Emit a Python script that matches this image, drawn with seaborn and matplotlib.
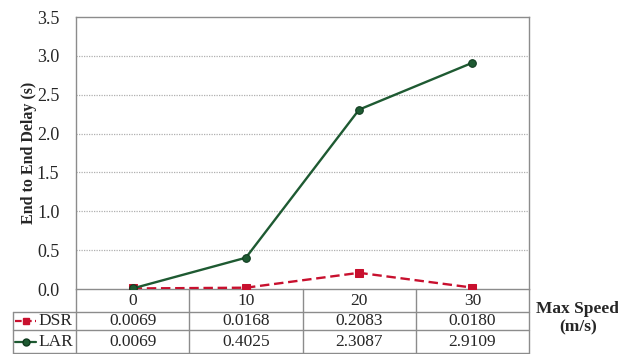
import matplotlib
matplotlib.use("Agg")
import matplotlib.pyplot as plt
import matplotlib.transforms as mtransforms
from matplotlib.lines import Line2D
import seaborn as sns
import pandas as pd

# Data
speeds = ["0", "10", "20", "30"]
dsr_delay = [0.0069, 0.0168, 0.2083, 0.0180]
lar_delay = [0.0069, 0.4025, 2.3087, 2.9109]
dsr_labels = ["0.0069", "0.0168", "0.2083", "0.0180"]
lar_labels = ["0.0069", "0.4025", "2.3087", "2.9109"]

sns.set_theme(style="white")
plt.rcParams["font.family"] = ["Liberation Serif", "DejaVu Serif"]

DSR_COLOR = "#c8102e"
LAR_COLOR = "#1e5a32"
FRAME = "#8c8c8c"
FS = 12.5

fig = plt.figure(figsize=(6.18, 3.54), dpi=100)
ax = fig.add_axes([76 / 618, 65 / 354, 453 / 618, 272 / 354])

pos = list(range(len(speeds)))
df = pd.DataFrame({"pos": pos, "DSR": dsr_delay, "LAR": lar_delay})

sns.lineplot(data=df, x="pos", y="DSR", ax=ax, color=DSR_COLOR, linestyle=(0, (4, 2)),
             linewidth=1.7, marker="s", markersize=5.5, markeredgecolor=DSR_COLOR, zorder=4)
sns.lineplot(data=df, x="pos", y="LAR", ax=ax, color=LAR_COLOR, linewidth=1.7,
             marker="o", markersize=5.5, markeredgecolor="#0f3a1e", zorder=5)

ax.set_xlim(-0.5, 3.5)
ax.set_ylim(0, 3.5)
ax.set_yticks([0, 0.5, 1.0, 1.5, 2.0, 2.5, 3.0, 3.5])
ax.set_yticklabels([f"{v:.1f}" for v in ax.get_yticks()], fontsize=13)
ax.set_xticks(pos)
ax.set_xticklabels(speeds, fontsize=FS)
ax.tick_params(axis="both", length=0)
ax.tick_params(axis="y", pad=12)
ax.tick_params(axis="x", pad=3)
ax.set_xlabel("")
ax.set_ylabel("End to End Delay (s)", fontsize=11.5, fontweight="bold", labelpad=0)

for y in [0.5, 1.0, 1.5, 2.0, 2.5, 3.0]:
    ax.axhline(y, color="#b0b0b0", linestyle=(0, (1.0, 1.0)), linewidth=0.9, zorder=1)

for side in ["top", "right", "left", "bottom"]:
    ax.spines[side].set_color(FRAME)
    ax.spines[side].set_linewidth(1.0)

# Data table beneath the axis
tr = mtransforms.blended_transform_factory(ax.transData, ax.transAxes)
H = 272.0
y_row1 = -23 / H
y_row2 = -41 / H
y_bot = -64 / H
x_left = (13 - 76) / 453

def axline(xs, ys, transform):
    ax.add_line(Line2D(xs, ys, transform=transform, color=FRAME, linewidth=1.0,
                       clip_on=False, zorder=3))

# horizontal rules
for y in [y_row1, y_row2, y_bot]:
    axline([x_left, 1], [y, y], ax.transAxes)
# outer verticals
axline([0, 0], [0, y_bot], ax.transAxes)
axline([1, 1], [0, y_bot], ax.transAxes)
axline([x_left, x_left], [y_row1, y_bot], ax.transAxes)
# column separators
for b in [0.5, 1.5, 2.5]:
    axline([b, b], [0, y_bot], tr)

y_dsr = (y_row1 + y_row2) / 2
y_lar = (y_row2 + y_bot) / 2
for p, a, b in zip(pos, dsr_labels, lar_labels):
    ax.text(p, y_dsr, a, transform=tr, ha="center", va="center", fontsize=FS, clip_on=False)
    ax.text(p, y_lar, b, transform=tr, ha="center", va="center", fontsize=FS, clip_on=False)

# row keys with series glyphs
gx0, gx1 = (15 - 76) / 453, (36 - 76) / 453
gm = (26 - 76) / 453
ax.add_line(Line2D([gx0, gx1], [y_dsr, y_dsr], transform=ax.transAxes, color=DSR_COLOR,
                   linestyle=(0, (3, 1.5)), linewidth=1.6, clip_on=False))
ax.add_line(Line2D([gm], [y_dsr], transform=ax.transAxes, color=DSR_COLOR, marker="s",
                   markersize=5, clip_on=False))
ax.add_line(Line2D([gx0, gx1], [y_lar, y_lar], transform=ax.transAxes, color=LAR_COLOR,
                   linewidth=1.6, clip_on=False))
ax.add_line(Line2D([gm], [y_lar], transform=ax.transAxes, color=LAR_COLOR, marker="o",
                   markersize=5, markeredgecolor="#0f3a1e", clip_on=False))
tx = (38.5 - 76) / 453
ax.text(tx, y_dsr, "DSR", transform=ax.transAxes, ha="left", va="center", fontsize=FS, clip_on=False)
ax.text(tx, y_lar, "LAR", transform=ax.transAxes, ha="left", va="center", fontsize=FS, clip_on=False)

fig.text(578 / 618, 1 - 318 / 354, "Max Speed\n(m/s)", ha="center", va="center",
         fontsize=12.5, fontweight="bold", linespacing=1.2)

fig.savefig("out.png", dpi=100)
